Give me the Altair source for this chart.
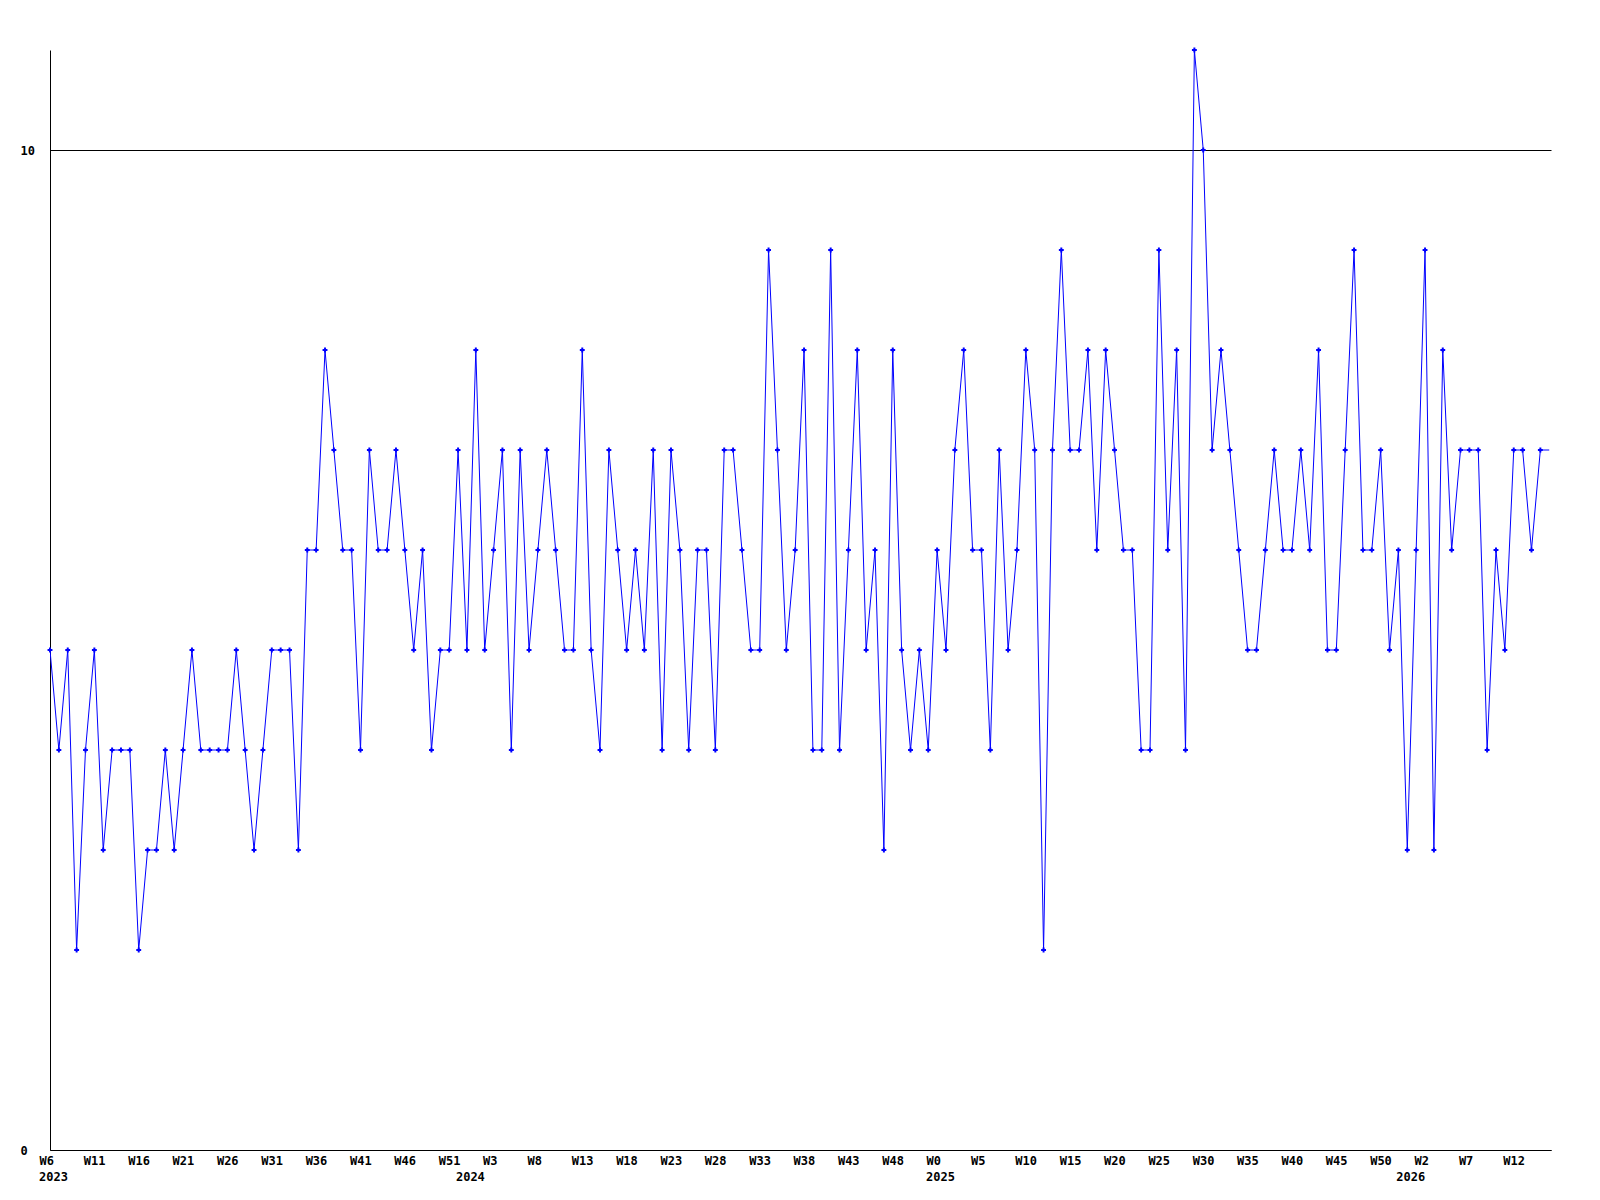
import altair as alt
import pandas as pd

# weekly values, 2023 W6 .. 2026 W15
values = [
    5, 4, 5, 2, 4, 5, 3, 4, 4, 4, 2, 3, 3, 4, 3, 4, 5, 4, 4, 4, 4, 5, 4, 3, 4, 5, 5, 5, 3,
    6, 6, 8, 7, 6, 6, 4, 7, 6, 6, 7, 6, 5, 6, 4, 5, 5, 7, 5, 8, 5, 6, 7, 4, 7, 5, 6, 7,
    6, 5, 5, 8, 5, 4, 7, 6, 5, 6, 5, 7, 4, 7, 6, 4, 6, 6, 4, 7, 7, 6, 5, 5, 9, 7, 5, 6,
    8, 4, 4, 9, 4, 6, 8, 5, 6, 3, 8, 5, 4, 5, 4, 6, 5, 7, 8, 6, 6, 4, 7, 5, 6, 8, 7, 2,
    7, 9, 7, 7, 8, 6, 8, 7, 6, 6, 4, 4, 9, 6, 8, 4, 11, 10, 7, 8, 7, 6, 5, 5, 6, 7, 6, 6,
    7, 6, 8, 5, 5, 7, 9, 6, 6, 7, 5, 6, 3, 6, 9, 3, 8, 6, 7, 7, 7, 4, 6, 5, 7, 7, 6, 7,
]
current_week_value = 7  # partial current week (no marker)

tick_labels = ["W6", "W11", "W16", "W21", "W26", "W31", "W36", "W41", "W46", "W51",
               "W3", "W8", "W13", "W18", "W23", "W28", "W33", "W38", "W43", "W48",
               "W0", "W5", "W10", "W15", "W20", "W25", "W30", "W35", "W40", "W45", "W50",
               "W2", "W7", "W12"]
tick_index = [5 * k for k in range(len(tick_labels))]

years = ["2023", "2024", "2025", "2026"]
year_index = [0, 47, 100, 153]

FONT = "DejaVu Sans Mono"
BLUE = "#0000ff"

df = pd.DataFrame({"i": list(range(len(values))), "v": values})
line_df = pd.concat(
    [df, pd.DataFrame({"i": [len(values)], "v": [current_week_value]})],
    ignore_index=True,
)
year_df = pd.DataFrame({"i": year_index, "t": years})

label_array = "[" + ",".join("'" + s + "'" for s in tick_labels) + "]"

x_scale = alt.Scale(domain=[0, 169.2], nice=False, zero=False)
y_scale = alt.Scale(domain=[0, 11], nice=False, zero=True)

x_axis = alt.Axis(
    values=tick_index,
    labelExpr=label_array + "[round(datum.value / 5)]",
    title=None,
    grid=False,
    ticks=False,
    tickSize=0,
    labelAlign="left",
    labelBaseline="top",
    labelOffset=-11,
    labelPadding=5,
    labelFont=FONT,
    labelFontSize=12,
    labelFontWeight="bold",
    labelColor="black",
    labelFlush=False,
    labelOverlap=False,
    domainColor="black",
    domainWidth=1,
)
y_axis = alt.Axis(
    values=[0, 10],
    format="d",
    title=None,
    grid=True,
    gridColor="black",
    gridOpacity=1,
    gridWidth=1,
    ticks=False,
    tickSize=0,
    labelAlign="left",
    labelBaseline="middle",
    labelPadding=30,
    labelFont=FONT,
    labelFontSize=12,
    labelFontWeight="bold",
    labelColor="black",
    labelFlush=False,
    domainColor="black",
    domainWidth=1,
)

line = alt.Chart(line_df).mark_line(color=BLUE, strokeWidth=1, clip=True).encode(
    x=alt.X("i:Q", scale=x_scale, axis=x_axis),
    y=alt.Y("v:Q", scale=y_scale, axis=y_axis),
)
points = alt.Chart(df).mark_point(
    shape="cross", filled=True, color=BLUE, size=24, opacity=1
).encode(
    x=alt.X("i:Q", scale=x_scale),
    y=alt.Y("v:Q", scale=y_scale),
)
year_text = alt.Chart(year_df).mark_text(
    align="left", baseline="middle", dx=-11, font=FONT, fontSize=12,
    fontWeight="bold", color="black"
).encode(
    x=alt.X("i:Q", scale=x_scale),
    y=alt.value(1127),
    text="t:N",
)

chart = alt.layer(line, points, year_text).properties(
    width=1501,
    height=1100,
    autosize=alt.AutoSizeParams(type="none"),
    padding={"left": 42, "top": 42, "right": 40, "bottom": 40},
    background="white",
).configure_view(stroke=None)

chart.save("out.html", embed_options={"renderer": "svg", "actions": False})
